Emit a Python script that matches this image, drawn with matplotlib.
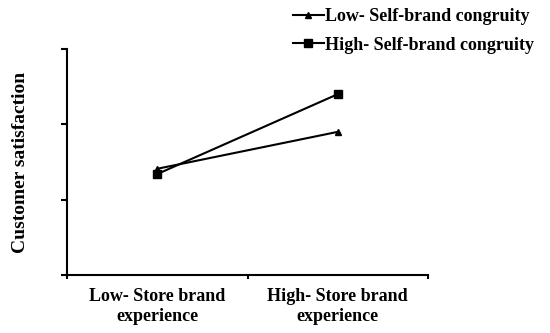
import matplotlib

matplotlib.use("Agg")
import matplotlib.pyplot as plt

# interaction plot: store brand experience x self-brand congruity
categories = ["Low- Store brand\nexperience", "High- Store brand\nexperience"]
low_congruity = [1.41, 1.90]
high_congruity = [1.34, 2.40]
series_labels = ["Low- Self-brand congruity", "High- Self-brand congruity"]

plt.rcParams["font.family"] = ["Liberation Serif", "DejaVu Serif"]
plt.rcParams["font.weight"] = "bold"

fig = plt.figure(figsize=(5.5, 3.33), dpi=100)
ax = fig.add_axes([0.1218, 0.174, 0.6564, 0.679])

xpos = [0.5, 1.5]
l1, = ax.plot(xpos, low_congruity, color="black", linewidth=1.5,
              marker="^", markersize=5)
l2, = ax.plot(xpos, high_congruity, color="black", linewidth=1.5,
              marker="s", markersize=5.5)

ax.set_xlim(0, 2)
ax.set_ylim(0, 3)
ax.set_xticks([0, 1, 2])
ax.set_xticklabels([])
ax.set_xticks(xpos, minor=True)
ax.set_xticklabels(categories, minor=True, fontsize=13, fontweight="bold",
                   linespacing=1.3)
ax.tick_params(axis="x", which="minor", length=0, pad=9)
ax.tick_params(axis="x", which="major", direction="out", length=3, width=1.5)
ax.set_yticks([0, 1, 2, 3])
ax.set_yticklabels([])
ax.tick_params(axis="y", direction="out", length=4, width=1.5)

for side in ["top", "right"]:
    ax.spines[side].set_visible(False)
for side in ["left", "bottom"]:
    ax.spines[side].set_linewidth(1.5)

ax.set_ylabel("Customer satisfaction", fontsize=14, fontweight="bold",
              labelpad=20)

fig.legend([l1, l2], series_labels, loc="upper left",
           bbox_to_anchor=(0.503, 1.025), frameon=False,
           handlelength=1.7, handletextpad=0.1, labelspacing=0.65,
           prop={"weight": "bold", "size": 13})

fig.savefig("out.png", dpi=100)
plt.close(fig)
